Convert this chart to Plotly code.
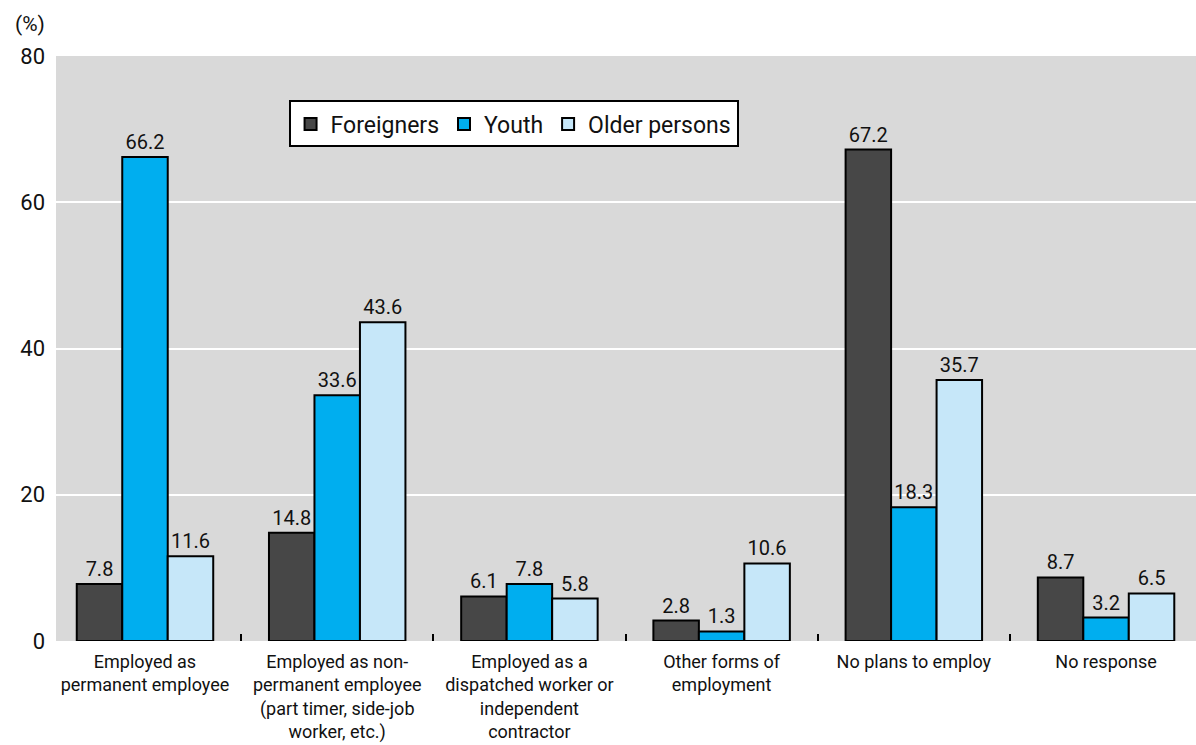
import plotly.graph_objects as go

categories = [
    "Employed as<br>permanent employee",
    "Employed as non-<br>permanent employee<br>(part timer, side-job<br>worker, etc.)",
    "Employed as a<br>dispatched worker or<br>independent<br>contractor",
    "Other forms of<br>employment",
    "No plans to employ",
    "No response",
]
foreigners = [7.8, 14.8, 6.1, 2.8, 67.2, 8.7]
youth = [66.2, 33.6, 7.8, 1.3, 18.3, 3.2]
older = [11.6, 43.6, 5.8, 10.6, 35.7, 6.5]

FONT = "Roboto, Arial, sans-serif"

series = [
    ("Foreigners", foreigners, "#474747"),
    ("Youth", youth, "#00aeef"),
    ("Older persons", older, "#c6e7f9"),
]

fig = go.Figure()
for name, vals, color in series:
    fig.add_trace(go.Bar(
        name=name,
        x=categories,
        y=vals,
        marker=dict(color=color, line=dict(color="#000000", width=2)),
        text=[f"{v:.1f}" for v in vals],
        textposition="outside",
        textfont=dict(size=20, color="#111111", family=FONT),
        cliponaxis=False,
    ))

fig.update_layout(
    width=1196,
    height=745,
    margin=dict(l=56, r=0, t=56, b=104),
    paper_bgcolor="#ffffff",
    plot_bgcolor="#d9d9d9",
    barmode="group",
    bargap=0.29,
    bargroupgap=0,
    font=dict(family=FONT, size=18, color="#111111"),
    showlegend=True,
    legend=dict(
        orientation="h",
        x=0.204, y=0.924, xanchor="left", yanchor="top",
        bgcolor="#ffffff",
        bordercolor="#000000",
        borderwidth=2,
        font=dict(size=23, family=FONT, color="#111111"),
        itemwidth=30,
    ),
    xaxis=dict(
        range=[-0.463, 5.468],
        automargin=False,
        tickangle=0,
        showgrid=False,
        showline=False,
        ticks="inside",
        tickson="boundaries",
        ticklen=7,
        tickwidth=2,
        tickcolor="#000000",
        tickfont=dict(size=18, family=FONT, color="#111111"),
        ticklabelstandoff=8,
        zeroline=False,
    ),
    yaxis=dict(
        range=[0, 80],
        automargin=False,
        tickvals=[0, 20, 40, 60, 80],
        showgrid=True,
        gridcolor="#ffffff",
        gridwidth=2,
        zeroline=False,
        showline=False,
        ticks="",
        tickfont=dict(size=22, family=FONT, color="#111111"),
        ticklabelstandoff=10,
    ),
    annotations=[
        dict(
            text="(%)", xref="paper", yref="paper",
            x=-0.008, y=1.055, xanchor="right", yanchor="middle",
            showarrow=False, font=dict(size=21, family=FONT, color="#111111"),
        )
    ],
)

fig.write_html("out.html")
